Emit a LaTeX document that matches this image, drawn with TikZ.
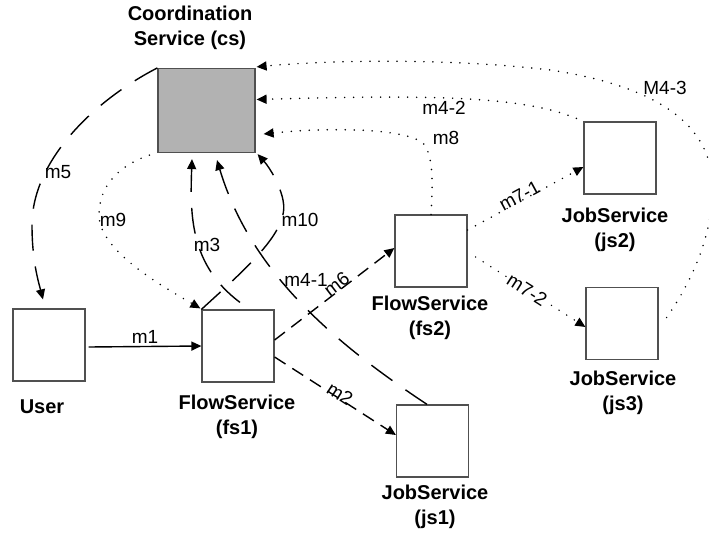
\documentclass[tikz,border=0pt]{standalone}
\usepackage{fontspec}
\setmainfont{Liberation Sans}
\usetikzlibrary{arrows.meta,calc}
\definecolor{csgray}{RGB}{178,178,178}
\definecolor{boxline}{RGB}{80,80,80}
\tikzset{
 svcbox/.style={draw=boxline, line width=1.2pt, minimum width=72pt, minimum height=72pt, inner sep=0pt},
 captext/.style={font=\fontsize{20}{25}\selectfont\bfseries, align=center},
 lab/.style={font=\fontsize{19}{20}\selectfont, inner sep=1pt},
 arrtip/.style={-{Triangle[length=10pt,width=9pt]}},
 solidc/.style={arrtip, line width=1.4pt},
 longdash/.style={arrtip, line width=1.4pt, dash pattern=on 26pt off 16pt},
 shortdash/.style={arrtip, line width=1.4pt, dash pattern=on 13pt off 8pt},
 dotc/.style={arrtip, line width=1.7pt, line cap=round, dash pattern=on 0pt off 9pt},
}
\begin{document}
\begin{tikzpicture}[x=1pt,y=-1pt]
\useasboundingbox (0,0) rectangle (709,533);
% boxes
\node[svcbox, fill=csgray, minimum width=97pt, minimum height=84pt] (cs) at (206.5,110.5) {};
\node[svcbox] (user) at (49,345) {};
\node[svcbox] (fs1) at (238,346) {};
\node[svcbox] (fs2) at (431,251) {};
\node[svcbox] (js2) at (620,158) {};
\node[svcbox] (js3) at (622,323.5) {};
\node[svcbox] (js1) at (432.5,441) {};
% captions
\node[captext] (capcs) at (190,28) {Coordination\\Service (cs)};
\node[captext] (capuser) at (42,407) {User};
\node[captext] (capfs1) at (237,416.5) {FlowService\\(fs1)};
\node[captext] (capfs2) at (430,317.5) {FlowService\\(fs2)};
\node[captext] (capjs2) at (615,229.5) {JobService\\(js2)};
\node[captext] (capjs3) at (623,392.5) {JobService\\(js3)};
\node[captext] (capjs1) at (435,506.5) {JobService\\(js1)};
% m1
\draw[solidc] ($(user.east)+(3,2)$) -- (fs1.west) node[lab, midway, above=1pt] (lm1) {m1};
% m5
\draw[longdash] (cs.north west) .. controls (95,100) and (32,160) .. (32,225) .. controls (32,260) and (38,280) .. ($(user.north)+(-6,-9)$);
\node[lab] (lm5) at (58,172) {m5};
% m9
\draw[dotc] ($(cs.south west)+(-8,2)$) .. controls (120,165) and (99,185) .. (99,215) .. controls (99,250) and (160,285) .. ($(fs1.north west)+(-1,-1)$);
\node[lab] (lm9) at (113,220) {m9};
% m3
\draw[longdash] ($(fs1.north)+(2,-7)$) .. controls (190,265) and (190,215) .. ($(cs.south)+(-14.5,6)$);
\node[lab] (lm3) at (207,245) {m3};
% m10
\draw[longdash] (fs1.north west) .. controls (250,265) and (290,230) .. (283,200) .. controls (280,185) and (270,168) .. ($(cs.south east)+(2,1)$);
\node[lab] (lm10) at (300,220) {m10};
% m4-1
\draw[longdash] ($(js1.north)+(-5.5,0)$) .. controls (330,340) and (250,270) .. ($(cs.south)+(10.5,7)$);
\node[lab] (lm41) at (306,280) {m4-1};
% m6
\draw[shortdash] ($(fs1.east)+(0,-6)$) -- ($(fs2.west)+(0,-3)$) node[lab, pos=0.55, sloped, above=-2pt] (lm6) {m6};
% m2
\draw[shortdash] ($(fs1.east)+(0,11)$) -- ($(js1.west)+(0,-6)$) node[lab, pos=0.52, sloped, above=-4pt] (lm2) {m2};
% m7-1
\draw[dotc] ($(fs2.east)+(0,-21)$) -- ($(js2.west)+(0,9)$) node[lab, pos=0.47, sloped, above=-3pt] (lm71) {m7-1};
% m7-2
\draw[dotc] ($(fs2.east)+(8,6)$) -- ($(js3.west)+(0,3.5)$) node[lab, pos=0.47, sloped, fill=white, inner sep=0.5pt] (lm72) {m7-2};
% m8
\draw[dotc] (fs2.north) .. controls (433,180) and (433,160) .. (425,145) .. controls (410,128) and (330,127) .. ($(cs.east)+(8,23.5)$);
\node[lab] (lm8) at (446,138) {m8};
% m4-2
\draw[dotc] ($(js2.north west)+(-7,-3)$) .. controls (520,95) and (420,95) .. ($(cs.east)+(1,-11)$);
\node[lab] (lm42) at (444,108) {m4-2};
% M4-3
\draw[dotc] ($(js3.east)+(8,-6)$) .. controls (700,270) and (715,220) .. (712,180) .. controls (708,120) and (650,85) .. (550,70) .. controls (450,58) and (330,60) .. ($(cs.north east)+(1,-1)$);
\node[lab] (lm43) at (665,88) {M4-3};
\end{tikzpicture}
\end{document}
